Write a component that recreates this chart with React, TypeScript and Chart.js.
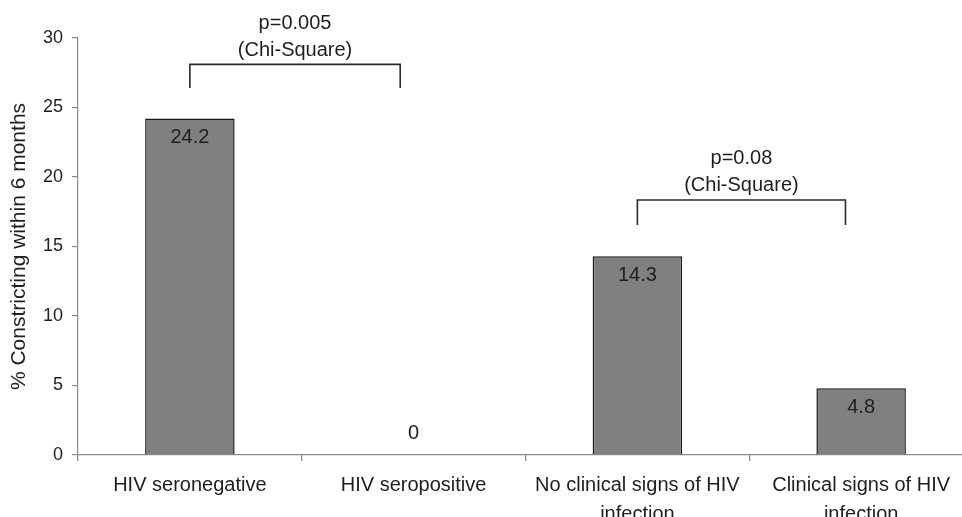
import React, { useEffect, useRef } from "react";
import { Chart, registerables } from "chart.js";

Chart.register(...registerables);

// ---- data ----
const categories: (string | string[])[] = [
  "HIV seronegative",
  "HIV seropositive",
  ["No clinical signs of HIV", "infection"],
  ["Clinical signs of HIV", "infection"],
];
const constrictingPct = [24.2, 0, 14.3, 4.8];
const yTicks = { min: 0, max: 30, step: 5 };
const yAxisTitle = "% Constricting within 6 months";

// comparison brackets (category index positions, y values in % units)
const bracketFrom = [0, 2];
const bracketTo = [0.94, 2.93];
const bracketTop = [28.1, 18.35];
const bracketFoot = [26.4, 16.55];
const bracketPValues = ["p=0.005", "p=0.08"];
const bracketTests = ["(Chi-Square)", "(Chi-Square)"];

const FONT = '"Liberation Sans", Arial, Helvetica, sans-serif';
const TEXT = "#1e1e1e";
const AXIS = "#8a8a8a";

const CANVAS_W = 990;
const CANVAS_H = 540;

const valueLabels = {
  id: "valueLabels",
  afterDatasetsDraw(chart: any) {
    const ctx = chart.ctx;
    const meta = chart.getDatasetMeta(0);
    const yScale = chart.scales.y;
    const base = yScale.getPixelForValue(0);
    ctx.save();
    ctx.font = `20px ${FONT}`;
    ctx.fillStyle = TEXT;
    ctx.textAlign = "center";
    ctx.textBaseline = "middle";
    meta.data.forEach((bar: any, i: number) => {
      const v = constrictingPct[i];
      const y = v > 0 ? bar.y + 19 : base - 22;
      ctx.fillText(String(v), bar.x, y);
    });
    ctx.restore();
  },
};

const brackets = {
  id: "brackets",
  afterDatasetsDraw(chart: any) {
    const ctx = chart.ctx;
    const xs = chart.scales.x;
    const ys = chart.scales.y;
    ctx.save();
    ctx.strokeStyle = "#2a2a2a";
    ctx.lineWidth = 1.6;
    ctx.font = `20px ${FONT}`;
    ctx.fillStyle = TEXT;
    ctx.textAlign = "center";
    ctx.textBaseline = "middle";
    for (let i = 0; i < bracketFrom.length; i++) {
      const x1 = xs.getPixelForValue(bracketFrom[i]);
      const x2 = xs.getPixelForValue(bracketTo[i]);
      const yt = ys.getPixelForValue(bracketTop[i]);
      const yf = ys.getPixelForValue(bracketFoot[i]);
      ctx.beginPath();
      ctx.moveTo(x1, yf);
      ctx.lineTo(x1, yt);
      ctx.lineTo(x2, yt);
      ctx.lineTo(x2, yf);
      ctx.stroke();
      const cx = (x1 + x2) / 2;
      ctx.fillText(bracketTests[i], cx, yt - 14);
      ctx.fillText(bracketPValues[i], cx, yt - 41);
    }
    ctx.restore();
  },
};

export default function App() {
  const ref = useRef<HTMLCanvasElement | null>(null);

  useEffect(() => {
    if (!ref.current) return;
    const chart = new Chart(ref.current, {
      type: "bar",
      data: {
        labels: categories as any,
        datasets: [
          {
            data: constrictingPct,
            backgroundColor: "#808080",
            borderColor: "#1a1a1a",
            borderWidth: 1.5,
            borderSkipped: "bottom",
            barPercentage: 0.4,
            categoryPercentage: 1.0,
          },
        ],
      },
      options: {
        responsive: false,
        animation: false,
        devicePixelRatio: 1,
        layout: { padding: { top: 38, right: CANVAS_W - 973, left: 0, bottom: 0 } },
        plugins: {
          legend: { display: false },
          tooltip: { enabled: false },
        },
        scales: {
          x: {
            type: "category",
            offset: true,
            grid: {
              display: true,
              drawOnChartArea: false,
              drawTicks: true,
              offset: true,
              tickLength: 6,
              color: AXIS,
              lineWidth: 1.2,
            },
            border: { display: true, color: AXIS, width: 1.2 },
            ticks: {
              color: TEXT,
              font: { family: FONT, size: 20, lineHeight: 1.45 },
              padding: 9.5,
              maxRotation: 0,
              minRotation: 0,
              autoSkip: false,
            },
            afterFit: (scale: any) => {
              scale.height = CANVAS_H - 455;
            },
          },
          y: {
            min: yTicks.min,
            max: yTicks.max,
            ticks: {
              stepSize: yTicks.step,
              color: TEXT,
              font: { family: FONT, size: 18 },
              padding: 9,
            },
            grid: {
              display: true,
              drawOnChartArea: false,
              drawTicks: true,
              tickLength: 6,
              color: AXIS,
              lineWidth: 1.2,
            },
            border: { display: true, color: AXIS, width: 1.2 },
            title: {
              display: true,
              text: yAxisTitle,
              color: TEXT,
              font: { family: FONT, size: 21, lineHeight: 1.1 },
              padding: { top: 8, bottom: 4 },
            },
            afterFit: (scale: any) => {
              scale.width = 78;
            },
          },
        },
      },
      plugins: [valueLabels, brackets],
    });
    return () => chart.destroy();
  }, []);

  return (
    <div
      style={{
        position: "fixed",
        left: 0,
        top: 0,
        width: 962,
        height: 517,
        overflow: "hidden",
        background: "#fff",
      }}
    >
      <canvas
        ref={ref}
        width={CANVAS_W}
        height={CANVAS_H}
        style={{ display: "block", width: CANVAS_W, height: CANVAS_H }}
      />
    </div>
  );
}
